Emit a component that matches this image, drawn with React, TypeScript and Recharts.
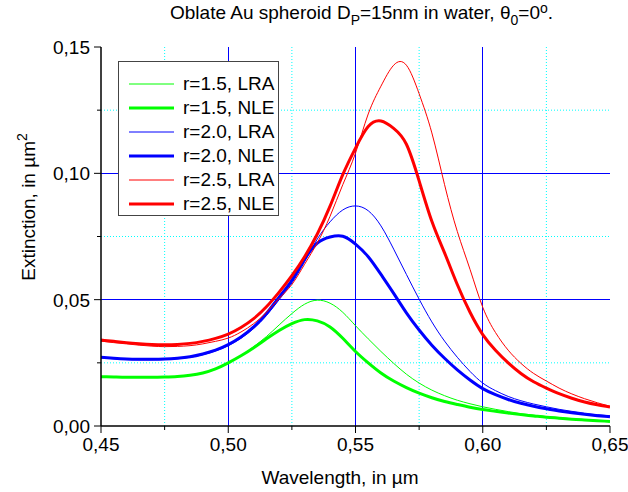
import React from "react"
import { LineChart, Line, XAxis, YAxis, CartesianGrid } from "recharts"

// wavelength grid, µm
const wavelength = [
  0.45, 0.455, 0.46, 0.465, 0.47, 0.475, 0.48, 0.485, 0.49, 0.495,
  0.5, 0.505, 0.51, 0.515, 0.52, 0.525, 0.53, 0.535, 0.54, 0.545,
  0.55, 0.555, 0.56, 0.565, 0.57, 0.575, 0.58, 0.585, 0.59, 0.595,
  0.6, 0.605, 0.61, 0.615, 0.62, 0.625, 0.63, 0.635, 0.64, 0.645, 0.65,
]

// extinction, µm²
const r15LRA = [
  0.0195, 0.0194, 0.0193, 0.0193, 0.0193, 0.0194, 0.0196, 0.0201, 0.021, 0.0226,
  0.025, 0.0278, 0.0314, 0.0354, 0.04, 0.0445, 0.0482, 0.0498, 0.0486, 0.045,
  0.0397, 0.0345, 0.0295, 0.0248, 0.0205, 0.017, 0.0142, 0.012, 0.0102, 0.0088,
  0.0076, 0.0066, 0.0057, 0.0049, 0.0043, 0.0037, 0.0033, 0.0029, 0.0025, 0.0022, 0.0019,
]
const r15NLE = [
  0.0195, 0.0194, 0.0193, 0.0193, 0.0193, 0.0194, 0.0196, 0.0201, 0.021, 0.0226,
  0.025, 0.0278, 0.031, 0.0345, 0.0378, 0.0405, 0.0421, 0.0416, 0.0392, 0.0347,
  0.0295, 0.025, 0.021, 0.0178, 0.0152, 0.013, 0.0112, 0.0097, 0.0085, 0.0074,
  0.0065, 0.0058, 0.0051, 0.0045, 0.004, 0.0035, 0.0031, 0.0027, 0.0024, 0.0021, 0.0018,
]
const r20LRA = [
  0.027, 0.0266, 0.0263, 0.0262, 0.0262, 0.0263, 0.0266, 0.0272, 0.0282, 0.0297,
  0.0318, 0.0347, 0.0386, 0.0437, 0.05, 0.0566, 0.065, 0.074, 0.0808, 0.0855,
  0.0871, 0.0852, 0.0792, 0.07, 0.06, 0.0502, 0.0412, 0.0336, 0.0272, 0.0216,
  0.017, 0.014, 0.0117, 0.01, 0.0087, 0.0076, 0.0066, 0.0058, 0.0051, 0.0045, 0.004,
]
const r20NLE = [
  0.0272, 0.0268, 0.0265, 0.0264, 0.0264, 0.0265, 0.0268, 0.0274, 0.0285, 0.03,
  0.0322, 0.0352, 0.0392, 0.0445, 0.051, 0.0577, 0.066, 0.0724, 0.0748, 0.0751,
  0.072, 0.067, 0.06, 0.0525, 0.0448, 0.038, 0.032, 0.0268, 0.0222, 0.0182,
  0.0148, 0.0124, 0.0105, 0.009, 0.0078, 0.0068, 0.0059, 0.0052, 0.0046, 0.0041, 0.0037,
]
const r25LRA = [
  0.0336, 0.033, 0.0325, 0.032, 0.0316, 0.0314, 0.0315, 0.0318, 0.0325, 0.0335,
  0.0348, 0.0372, 0.0405, 0.045, 0.0505, 0.056, 0.064, 0.0725, 0.083, 0.0955,
  0.108, 0.1235, 0.1345, 0.1428, 0.1428, 0.1315, 0.116, 0.0955, 0.077, 0.062,
  0.047, 0.037, 0.03, 0.0248, 0.0208, 0.0178, 0.015, 0.0127, 0.0108, 0.0092, 0.0078,
]
const r25NLE = [
  0.034, 0.0335, 0.033, 0.0326, 0.0323, 0.0322, 0.0323, 0.0327, 0.0335, 0.0347,
  0.0364, 0.039, 0.0425, 0.0472, 0.053, 0.0595, 0.067, 0.076, 0.087, 0.0995,
  0.11, 0.1185, 0.1207, 0.1178, 0.1115, 0.097, 0.081, 0.0685, 0.056, 0.045,
  0.0362, 0.03, 0.025, 0.0208, 0.0175, 0.015, 0.0128, 0.011, 0.0095, 0.0084, 0.0075,
]

const xMajor = [0.45, 0.5, 0.55, 0.6, 0.65]
const xMinor = [0.475, 0.525, 0.575, 0.625]
const yMajor = [0, 0.05, 0.1, 0.15]
const yMinor = [0.025, 0.075, 0.125]
const xGridMajor = [0.5, 0.55, 0.6]
const yGridMajor = [0.05, 0.1]

const series = [
  { key: "r15LRA", name: "r=1.5, LRA", values: r15LRA, color: "#00ff00", width: 1 },
  { key: "r15NLE", name: "r=1.5, NLE", values: r15NLE, color: "#00ff00", width: 3 },
  { key: "r20LRA", name: "r=2.0, LRA", values: r20LRA, color: "#0000ff", width: 1 },
  { key: "r20NLE", name: "r=2.0, NLE", values: r20NLE, color: "#0000ff", width: 3 },
  { key: "r25LRA", name: "r=2.5, LRA", values: r25LRA, color: "#ff0000", width: 1 },
  { key: "r25NLE", name: "r=2.5, NLE", values: r25NLE, color: "#ff0000", width: 3 },
]

const data = wavelength.map((w, i) => {
  const row: Record<string, number> = { w }
  series.forEach(s => { row[s.key] = s.values[i] })
  return row
})

const FONT = "Arial, 'Liberation Sans', sans-serif"
const fmt = (v: number) => v.toFixed(2).replace(".", ",")
const isMajor = (v: number, list: number[]) => list.some(m => Math.abs(m - v) < 1e-6)

function XTick({ x, y, payload }: any) {
  const major = isMajor(payload.value, xMajor)
  return (
    <g>
      <line x1={x} y1={y} x2={x} y2={y + (major ? 7 : 4)} stroke="#000" strokeWidth={1} />
      {major && (
        <text x={x} y={y + 25} textAnchor="middle" fontSize={19} fontFamily={FONT} fill="#000">{fmt(payload.value)}</text>
      )}
    </g>
  )
}

function YTick({ x, y, payload }: any) {
  const major = isMajor(payload.value, yMajor)
  return (
    <g>
      <line x1={x - (major ? 7 : 4)} y1={y} x2={x} y2={y} stroke="#000" strokeWidth={1} />
      {major && (
        <text x={x - 11} y={y + 7} textAnchor="end" fontSize={19} fontFamily={FONT} fill="#000">{fmt(payload.value)}</text>
      )}
    </g>
  )
}

export default function App() {
  return (
    <div style={{ position: "absolute", left: 0, top: 0, width: 628, height: 492, background: "#fff", fontFamily: FONT }}>
      <LineChart width={628} height={492} data={data} margin={{ top: 47, right: 18, bottom: 0, left: 0 }}>
        <CartesianGrid horizontal={false} verticalValues={xMinor} stroke="#00ffff" strokeDasharray="1 2" />
        <CartesianGrid vertical={false} horizontalValues={yMinor} stroke="#00ffff" strokeDasharray="1 2" />
        <CartesianGrid horizontal={false} verticalValues={xGridMajor} stroke="#0000ff" shapeRendering="crispEdges" />
        <CartesianGrid vertical={false} horizontalValues={yGridMajor} stroke="#0000ff" shapeRendering="crispEdges" />
        <XAxis dataKey="w" type="number" domain={[0.45, 0.65]} ticks={[...xMajor, ...xMinor].sort((a, b) => a - b)}
          interval={0} allowDataOverflow tickSize={0} tickMargin={0} tickLine={false} height={66}
          axisLine={{ stroke: "#000", strokeWidth: 1.5 }} tick={<XTick />} />
        <YAxis type="number" domain={[0, 0.15]} ticks={[...yMajor, ...yMinor].sort((a, b) => a - b)}
          interval={0} allowDataOverflow tickSize={0} tickMargin={0} tickLine={false} width={101}
          axisLine={{ stroke: "#000", strokeWidth: 1.5 }} tick={<YTick />} />
        {series.map(s => (
          <Line key={s.key} dataKey={s.key} name={s.name} type="natural" stroke={s.color} strokeWidth={s.width}
            dot={false} activeDot={false} isAnimationActive={false} />
        ))}
      </LineChart>

      <svg width={628} height={492} style={{ position: "absolute", left: 0, top: 0, pointerEvents: "none" }}>
        <text x={170} y={19} fontSize={19} fontFamily={FONT} fill="#000">
          Oblate Au spheroid D<tspan fontSize={14} dy={6}>P</tspan>
          <tspan dy={-6}>=15nm in water, θ</tspan><tspan fontSize={14} dy={6}>0</tspan>
          <tspan dy={-6}>=0</tspan><tspan fontSize={14} dy={-6}>o</tspan><tspan dy={6}>.</tspan>
        </text>
        <text x={35} y={207} transform="rotate(-90, 35, 207)" textAnchor="middle" fontSize={19} fontFamily={FONT} fill="#000">
          Extinction, in µm<tspan fontSize={14} dy={-8}>2</tspan>
        </text>
        <text x={340} y={484} textAnchor="middle" fontSize={19} fontFamily={FONT} fill="#000">Wavelength, in µm</text>
      </svg>

      <div style={{ position: "absolute", left: 118, top: 61, width: 159, height: 153, border: "1px solid #444", background: "#fff" }}>
        {series.map((s, i) => (
          <div key={s.key} style={{ position: "absolute", left: 0, top: 10 + i * 24, height: 24, width: 159 }}>
            <svg width={60} height={24} style={{ position: "absolute", left: 0, top: 0 }}>
              <line x1={10} y1={12} x2={55} y2={12} stroke={s.color} strokeWidth={s.width} />
            </svg>
            <span style={{ position: "absolute", left: 64, top: 0, lineHeight: "24px", fontSize: 19, whiteSpace: "nowrap", color: "#000" }}>{s.name}</span>
          </div>
        ))}
      </div>
    </div>
  )
}
